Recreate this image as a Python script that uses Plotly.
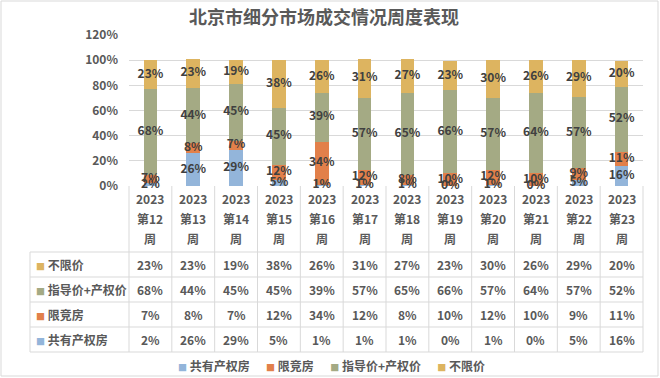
import plotly.graph_objects as go

weeks = ["第12", "第13", "第14", "第15", "第16", "第17", "第18", "第19", "第20", "第21", "第22", "第23"]
year = "2023"
series_names = ["共有产权房", "限竞房", "指导价+产权价", "不限价"]
shared = [2, 26, 29, 5, 1, 1, 1, 0, 1, 0, 5, 16]
limited = [7, 8, 7, 12, 34, 12, 8, 10, 12, 10, 9, 11]
guided = [68, 44, 45, 45, 39, 57, 65, 66, 57, 64, 57, 52]
unlimited = [23, 23, 19, 38, 26, 31, 27, 23, 30, 26, 29, 20]
colors = ["#93B5DA", "#E2804A", "#A4AA84", "#DDB460"]

FONT = "Noto Sans CJK SC"
GRAY = "#595959"
DARK = "#404040"
LINE = "#D9D9D9"

W, H = 660, 378
L, R, T, B = 129, 17, 35, 192
pw, ph = W - L - R, H - T - B


def xp(px):
    return (px - L) / pw


def yp(py):
    return (H - B - py) / ph


series = [shared, limited, guided, unlimited]
n = len(weeks)
xs = list(range(n))

fig = go.Figure()
base = [0] * n
for name, vals, col in zip(series_names, series, colors):
    fv = [v / 100 for v in vals]
    fig.add_trace(go.Bar(x=xs, y=fv, name=name, marker=dict(color=col, line=dict(width=0)),
                         width=0.32, showlegend=False, hoverinfo="skip"))
    mids = [b + f / 2 for b, f in zip(base, fv)]
    fig.add_trace(go.Scatter(x=xs, y=mids, mode="text", text=[f"{v}%" for v in vals],
                             textfont=dict(family=FONT, size=12, color=DARK, weight="bold"),
                             cliponaxis=False, showlegend=False, hoverinfo="skip"))
    base = [b + f for b, f in zip(base, fv)]

shapes = []
# column boundaries of the table
for i in range(n + 1):
    shapes.append(dict(type="line", xref="paper", yref="paper", x0=i / n, x1=i / n,
                       y0=yp(186), y1=yp(352), line=dict(color=LINE, width=1)))
row_lines = [252, 277, 302, 327, 352]
for py in row_lines:
    shapes.append(dict(type="line", xref="paper", yref="paper", x0=xp(30), x1=1,
                       y0=yp(py), y1=yp(py), line=dict(color=LINE, width=1)))
shapes.append(dict(type="line", xref="paper", yref="paper", x0=xp(30), x1=xp(30),
                   y0=yp(252), y1=yp(352), line=dict(color=LINE, width=1)))
# outer border
shapes.append(dict(type="rect", xref="paper", yref="paper", x0=xp(1), x1=xp(658),
                   y0=yp(1), y1=yp(376), line=dict(color=LINE, width=1)))

annotations = []
hdr_font = dict(family=FONT, size=12, color=GRAY, weight="bold")
for i, w in enumerate(weeks):
    for txt, py in [(year, 198), (w, 218), ("周", 238)]:
        annotations.append(dict(x=i, y=yp(py), xref="x", yref="paper", text=txt,
                                showarrow=False, font=hdr_font, xanchor="center", yanchor="middle"))

table_rows = [(series_names[3], unlimited, colors[3]), (series_names[2], guided, colors[2]),
              (series_names[1], limited, colors[1]), (series_names[0], shared, colors[0])]
row_centers = [264.5, 289.5, 314.5, 339.5]
for (name, vals, col), py in zip(table_rows, row_centers):
    annotations.append(dict(x=xp(34), y=yp(py), xref="paper", yref="paper",
                            text=f'<span style="color:{col};font-size:9px">■</span> {name}',
                            showarrow=False, xanchor="left", yanchor="middle",
                            font=dict(family=FONT, size=12, color=GRAY, weight="bold")))
    for i, v in enumerate(vals):
        annotations.append(dict(x=i, y=yp(py), xref="x", yref="paper", text=f"{v}%",
                                showarrow=False, xanchor="center", yanchor="middle",
                                font=dict(family=FONT, size=12, color=GRAY, weight="bold")))

# legend
gap = "\u00a0" * 6
legend_parts = []
for name, col in zip(series_names, colors):
    legend_parts.append(f'<span style="color:{col};font-size:9px">■</span>\u00a0{name}')
annotations.append(dict(x=xp(331), y=yp(365), xref="paper", yref="paper",
                        text=gap.join(legend_parts), showarrow=False,
                        xanchor="center", yanchor="middle",
                        font=dict(family=FONT, size=12, color=GRAY, weight="bold")))

fig.update_layout(
    width=W, height=H,
    margin=dict(l=L, r=R, t=T, b=B),
    paper_bgcolor="white", plot_bgcolor="white",
    barmode="stack",
    title=dict(text="北京市细分市场成交情况周度表现", x=324 / W, xanchor="center",
               y=1 - 18 / H, yanchor="middle",
               font=dict(family=FONT, size=18, color=GRAY, weight="bold")),
    xaxis=dict(range=[-0.5, n - 0.5], showticklabels=False, showgrid=False, zeroline=False,
               showline=False, fixedrange=True),
    yaxis=dict(range=[0, 1.2], dtick=0.2, tickformat=".0%", showgrid=True, gridcolor=LINE,
               gridwidth=1, zeroline=False, showline=False, ticks="", ticklabelstandoff=10,
               tickfont=dict(family=FONT, size=12, color=GRAY, weight="bold")),
    shapes=shapes,
    annotations=annotations,
    showlegend=False,
)

fig.write_html("out.html", config={"displayModeBar": False},
               post_script="document.body.style.margin='0';document.body.style.overflow='hidden';")
